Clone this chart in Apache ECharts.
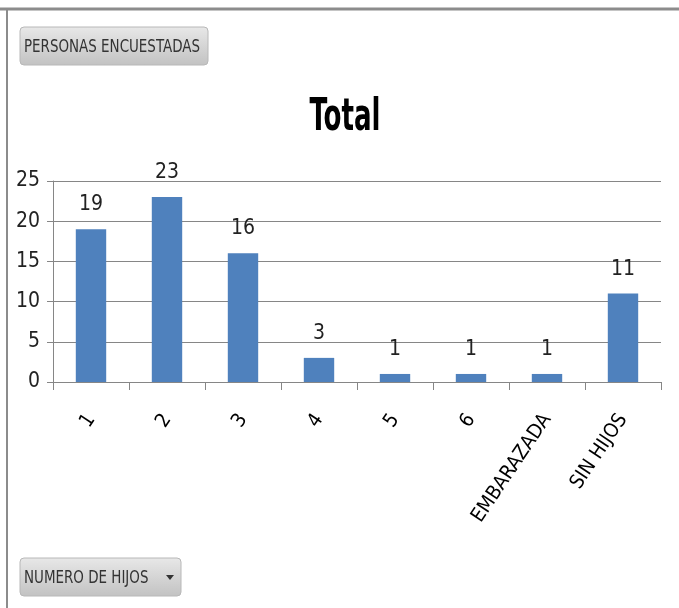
<!DOCTYPE html>
<html>
<head>
<meta charset="utf-8">
<style>
  html, body { margin: 0; padding: 0; background: #fff; }
  #chart { width: 679px; height: 608px; }
</style>
<script src="https://cdn.jsdelivr.net/npm/echarts@6/dist/echarts.min.js"></script>
</head>
<body>
<div id="chart"></div>
<script>
// Number of children of the surveyed people
const categories = ['1', '2', '3', '4', '5', '6', 'EMBARAZADA', 'SIN HIJOS'];
const totals = [19, 23, 16, 3, 1, 1, 1, 11];
const yTicks = { min: 0, max: 25, interval: 5 };

const FONT = '"DejaVu Sans Condensed", "Liberation Sans Narrow", "Liberation Sans", sans-serif';

const chart = echarts.init(document.getElementById('chart'), null, { renderer: 'canvas' });

// Grey filter-button look
function button(x, y, w, h, label, withArrow) {
  const children = [
    {
      type: 'rect',
      shape: { x: 0, y: 0, width: w, height: h, r: 4 },
      style: {
        fill: new echarts.graphic.LinearGradient(0, 0, 0, 1, [
          { offset: 0, color: '#e8e8e8' },
          { offset: 1, color: '#c2c2c2' }
        ]),
        stroke: '#b8b8b8', lineWidth: 1
      }
    },
    {
      type: 'text',
      x: 4, y: h / 2 + 1, scaleX: 0.83,
      style: { text: label, font: '18px ' + FONT, fill: '#333', verticalAlign: 'middle' }
    }
  ];
  if (withArrow) {
    children.push({
      type: 'polygon',
      shape: { points: [[w - 15, h / 2 - 2], [w - 7, h / 2 - 2], [w - 11, h / 2 + 3]] },
      style: { fill: '#333' }
    });
  }
  return { type: 'group', x: x, y: y, children: children };
}

chart.setOption({
  backgroundColor: '#ffffff',
  animation: false,
  grid: { left: 53, right: 18, top: 181, bottom: 226, containLabel: false },
  xAxis: {
    type: 'category',
    data: categories,
    axisLine: { lineStyle: { color: '#868686', width: 1 } },
    axisTick: { show: true, length: 8, alignWithLabel: false, lineStyle: { color: '#868686' } },
    axisLabel: {
      interval: 0, rotate: 56, margin: 34,
      fontFamily: FONT, fontSize: 20, color: '#000'
    }
  },
  yAxis: {
    type: 'value',
    min: yTicks.min, max: yTicks.max, interval: yTicks.interval,
    axisLine: { show: true, lineStyle: { color: '#868686' } },
    axisTick: { show: true, length: 6, lineStyle: { color: '#868686' } },
    splitLine: { show: true, lineStyle: { color: '#868686', width: 1 } },
    axisLabel: { fontFamily: FONT, fontSize: 21, color: '#222', margin: 13 }
  },
  series: [{
    type: 'bar',
    data: totals,
    barWidth: '40%',
    itemStyle: { color: '#4f81bd' },
    label: {
      show: true, position: 'top', distance: 14,
      fontFamily: FONT, fontSize: 21, color: '#222'
    }
  }],
  graphic: [
    { type: 'line', shape: { x1: 0, y1: 9, x2: 679, y2: 9 }, style: { stroke: '#8c8c8c', lineWidth: 3 } },
    { type: 'line', shape: { x1: 7, y1: 8, x2: 7, y2: 608 }, style: { stroke: '#8c8c8c', lineWidth: 2 } },
    {
      type: 'text', x: 345, y: 119, scaleX: 0.66,
      style: {
        text: 'Total', font: 'bold 44px ' + FONT, fill: '#000',
        align: 'center', verticalAlign: 'middle'
      }
    },
    button(20, 27, 188, 38, 'PERSONAS ENCUESTADAS', false),
    button(20, 558, 161, 38, 'NUMERO DE HIJOS', true)
  ]
});
</script>
</body>
</html>
